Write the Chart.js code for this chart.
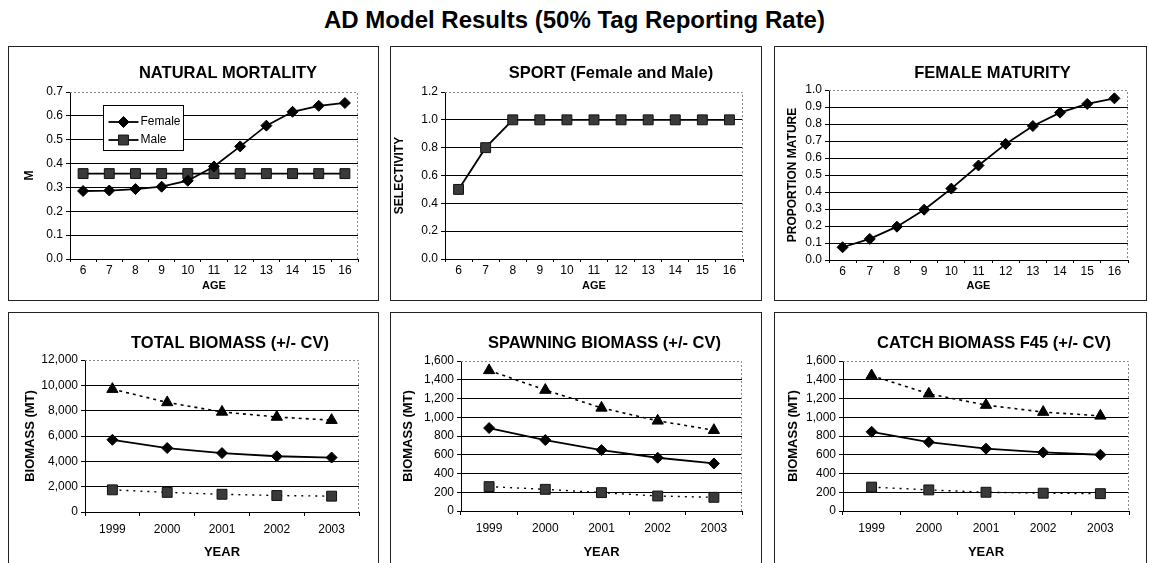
<!DOCTYPE html>
<html><head><meta charset="utf-8">
<script src="https://cdn.jsdelivr.net/npm/chart.js@4.4.1/dist/chart.umd.min.js"></script>
<style>
html,body{margin:0;padding:0;background:#fff;}
body{width:1149px;height:563px;overflow:hidden;position:relative;font-family:"Liberation Sans",Arial,sans-serif;}
#title{position:absolute;left:0;top:6px;width:1149px;text-align:center;font-weight:bold;font-size:24px;line-height:28px;color:#000;}
.panel{position:absolute;border:1px solid #222;box-sizing:border-box;}
canvas{position:absolute;}
</style></head><body>
<div id="title">AD Model Results (50% Tag Reporting Rate)</div>
<script>
// ---- data ----
const ages = ['6','7','8','9','10','11','12','13','14','15','16'];
const years = ['1999','2000','2001','2002','2003'];

const mortFemale = [0.285, 0.287, 0.293, 0.303, 0.328, 0.388, 0.472, 0.559, 0.617, 0.642, 0.654];
const mortMale   = [0.358, 0.358, 0.358, 0.358, 0.358, 0.358, 0.358, 0.358, 0.358, 0.358, 0.358];
const sportSel   = [0.5, 0.8, 1.0, 1.0, 1.0, 1.0, 1.0, 1.0, 1.0, 1.0, 1.0];
const maturity   = [0.075, 0.124, 0.196, 0.296, 0.42, 0.556, 0.683, 0.788, 0.867, 0.918, 0.951];

const totalUpper = [9700, 8650, 7900, 7500, 7250];
const totalMid   = [5700, 5050, 4650, 4400, 4300];
const totalLower = [1750, 1550, 1400, 1300, 1250];

const spawnUpper = [1500, 1290, 1100, 962, 862];
const spawnMid   = [885, 757, 650, 568, 507];
const spawnLower = [260, 231, 196, 160, 146];

const catchUpper = [1445, 1250, 1130, 1055, 1015];
const catchMid   = [845, 735, 665, 625, 600];
const catchLower = [255, 225, 200, 190, 185];

const mortTicks  = [0, 0.1, 0.2, 0.3, 0.4, 0.5, 0.6, 0.7];
const sportTicks = [0, 0.2, 0.4, 0.6, 0.8, 1.0, 1.2];
const matTicks   = [0, 0.1, 0.2, 0.3, 0.4, 0.5, 0.6, 0.7, 0.8, 0.9, 1.0];
const totalTicks = [0, 2000, 4000, 6000, 8000, 10000, 12000];
const bioTicks   = [0, 200, 400, 600, 800, 1000, 1200, 1400, 1600];

// ---- helpers ----
const FONT = "'Liberation Sans', Arial, Helvetica, sans-serif";
const TICK = 12;
const dec1 = v => Number(v).toFixed(1);
const comma = v => Number(v).toLocaleString('en-US');

const frame = {
  id: 'frame',
  beforeDatasetsDraw(chart) {
    const {ctx, chartArea: a} = chart;
    ctx.save();
    ctx.strokeStyle = '#8a8a8a';
    ctx.lineWidth = 1;
    ctx.setLineDash([2, 2]);
    const t = Math.round(a.top) + 0.5, r = Math.round(a.right) - 0.5;
    ctx.beginPath();
    ctx.moveTo(a.left, t); ctx.lineTo(r, t); ctx.lineTo(r, a.bottom);
    ctx.stroke();
    ctx.restore();
  }
};

const shiftTitle = {
  id: 'shiftTitle',
  afterLayout(chart, args, o) {
    const t = chart.titleBlock;
    if (t && o && o.dx) { t.left += o.dx; t.right += o.dx; }
  }
};

function marker(ctx, style, r, x, y) {
  if (Chart.helpers && Chart.helpers.drawPoint) {
    Chart.helpers.drawPoint(ctx, {pointStyle: style, radius: r, rotation: 0, borderWidth: 1}, x, y);
    return;
  }
  ctx.beginPath();
  if (style === 'rect') { const s = r * Math.SQRT1_2; ctx.rect(x - s, y - s, 2 * s, 2 * s); }
  else { ctx.moveTo(x, y - r); ctx.lineTo(x + r, y); ctx.lineTo(x, y + r); ctx.lineTo(x - r, y); ctx.closePath(); }
  ctx.fill(); ctx.stroke();
}

const boxLegend = {
  id: 'boxLegend',
  afterDraw(chart, args, o) {
    if (!o || !o.w) return;
    const {ctx, chartArea: a} = chart;
    const x = Math.round(a.left + o.x) + 0.5, y = Math.round(a.top + o.y) + 0.5;
    ctx.save();
    ctx.fillStyle = '#fff';
    ctx.fillRect(x, y, o.w, o.h);
    ctx.strokeStyle = '#000'; ctx.lineWidth = 1;
    ctx.strokeRect(x, y, o.w, o.h);
    chart.data.datasets.forEach((d, i) => {
      const cy = y + o.rows[i];
      ctx.strokeStyle = d.borderColor; ctx.lineWidth = d.borderWidth;
      ctx.beginPath(); ctx.moveTo(x + o.lineX0, cy); ctx.lineTo(x + o.lineX1, cy); ctx.stroke();
      ctx.fillStyle = d.pointBackgroundColor; ctx.strokeStyle = d.pointBorderColor; ctx.lineWidth = 1;
      marker(ctx, d.pointStyle, d.pointRadius, x + (o.lineX0 + o.lineX1) / 2, cy);
      ctx.fillStyle = '#000';
      ctx.font = '12px ' + FONT;
      ctx.textBaseline = 'middle'; ctx.textAlign = 'left';
      ctx.fillText(d.label, x + o.textX, cy);
    });
    ctx.restore();
  }
};

function diamondSet(label, data) {
  return {label, data, borderColor: '#000', borderWidth: 1.8, pointStyle: 'rectRot', pointRadius: 5.5,
    pointBackgroundColor: '#000', pointBorderColor: '#000', pointBorderWidth: 1, tension: 0, fill: false};
}
function squareSet(label, data, dash) {
  return {label, data, borderColor: '#000', borderWidth: dash ? 1.4 : 1.8, borderDash: dash || [],
    pointStyle: 'rect', pointRadius: 7, pointBackgroundColor: '#3a3a3a', pointBorderColor: '#111',
    pointBorderWidth: 1, tension: 0, fill: false};
}
function triSet(label, data) {
  return {label, data, borderColor: '#000', borderWidth: 1.6, borderDash: [3, 4],
    pointStyle: 'triangle', pointRadius: 6.5, pointBackgroundColor: '#000', pointBorderColor: '#000',
    pointBorderWidth: 1, tension: 0, fill: false};
}

function panel(o) {
  const div = document.createElement('div');
  div.className = 'panel';
  Object.assign(div.style, {left: o.left + 'px', top: o.top + 'px', width: o.w + 'px', height: o.h + 'px'});
  document.body.appendChild(div);
  const cv = document.createElement('canvas');
  cv.width = o.w; cv.height = o.h;
  Object.assign(cv.style, {left: o.left + 'px', top: o.top + 'px', width: o.w + 'px', height: o.h + 'px'});
  document.body.appendChild(cv);

  const tSize = 16.5, tLh = tSize * 1.2;
  const tPadTop = o.titleY - tLh / 2;
  const tPadBot = o.chartTop - tPadTop - tLh;
  const yLh = o.yTitleSize * 1.2;
  const xLh = o.xTitleSize * 1.2;
  const yMax = o.yTicks[o.yTicks.length - 1];

  new Chart(cv, {
    type: 'line',
    data: {labels: o.labels, datasets: o.datasets},
    options: {
      responsive: false, animation: false, events: [],
      layout: {padding: {left: 0, right: o.w - o.chartRight, top: 0, bottom: 0}},
      plugins: {
        legend: {display: false}, tooltip: {enabled: false},
        title: {display: true, text: o.title, fullSize: false, color: '#000',
          font: {family: FONT, size: tSize, weight: 'bold'}, padding: {top: tPadTop, bottom: tPadBot}},
        shiftTitle: {dx: o.titleDx},
        boxLegend: o.legend || false
      },
      scales: {
        x: {
          type: 'category', offset: true,
          grid: {display: true, offset: true, drawOnChartArea: false, drawTicks: true,
            tickLength: o.xTickLen, color: '#000', tickColor: '#000'},
          border: {display: true, color: '#000', width: 1},
          ticks: {color: '#000', font: {family: FONT, size: TICK}, padding: o.xTickPad, maxRotation: 0, autoSkip: false},
          title: {display: true, text: o.xTitle, color: '#000',
            font: {family: FONT, size: o.xTitleSize, weight: 'bold'},
            padding: {top: 0, bottom: o.h - o.xTitleY - xLh / 2}},
          afterFit: s => { s.height = o.h - o.chartBottom; }
        },
        y: {
          min: o.yTicks[0], max: yMax,
          afterBuildTicks: s => { s.ticks = o.yTicks.map(v => ({value: v})); },
          grid: {color: c => (c.tick && c.tick.value === yMax) ? 'rgba(0,0,0,0)' : '#000',
            lineWidth: 1, drawTicks: true, tickLength: 4, tickColor: '#000'},
          border: {display: true, color: '#000', width: 1},
          ticks: {color: '#000', font: {family: FONT, size: TICK}, padding: 3, autoSkip: false, callback: v => o.fmt(v)},
          title: {display: true, text: o.yTitle, color: '#000',
            font: {family: FONT, size: o.yTitleSize, weight: 'bold'},
            padding: {top: o.yTitleX - yLh / 2, bottom: 0}},
          afterFit: s => { s.width = o.chartLeft; }
        }
      }
    },
    plugins: [frame, shiftTitle, boxLegend]
  });
}

const topRow = {top: 46, h: 255, chartTop: 46, chartBottom: 213, titleY: 27, yTitleSize: 12,
  xTitle: 'AGE', xTitleY: 239.5, xTitleSize: 11, xTickLen: 3, xTickPad: 1, labels: ages};
const botRow = {top: 312, h: 260, chartTop: 48, chartBottom: 200, titleY: 31, yTitleSize: 13,
  xTitle: 'YEAR', xTitleY: 240, xTitleSize: 13, xTickLen: 4, xTickPad: 6, labels: years,
  yTitle: 'BIOMASS (MT)'};

panel(Object.assign({}, topRow, {
  left: 8, w: 371, chartLeft: 62, chartRight: 350, titleDx: 14,
  title: 'NATURAL MORTALITY', yTitle: 'M', yTitleX: 22, yTicks: mortTicks, fmt: dec1,
  datasets: [diamondSet('Female', mortFemale), squareSet('Male', mortMale)],
  legend: {x: 33, y: 13, w: 80, h: 45, rows: [16.5, 34.5], lineX0: 5, lineX1: 35, textX: 37}
}));
panel(Object.assign({}, topRow, {
  left: 390, w: 372, chartLeft: 55, chartRight: 353, titleDx: 17,
  title: 'SPORT (Female and Male)', yTitle: 'SELECTIVITY', yTitleX: 10, yTicks: sportTicks, fmt: dec1,
  datasets: [squareSet('Female and Male', sportSel)]
}));
panel(Object.assign({}, topRow, {
  left: 774, w: 373, chartLeft: 55, chartRight: 354, chartTop: 44, chartBottom: 214, titleDx: 14,
  title: 'FEMALE MATURITY', yTitle: 'PROPORTION MATURE', yTitleX: 19, yTicks: matTicks, fmt: dec1,
  datasets: [diamondSet('Female', maturity)]
}));
panel(Object.assign({}, botRow, {
  left: 8, w: 371, chartLeft: 77, chartRight: 351, titleDx: 8,
  title: 'TOTAL BIOMASS (+/- CV)', yTitleX: 22, yTicks: totalTicks, fmt: comma,
  datasets: [triSet('+CV', totalUpper), diamondSet('Estimate', totalMid), squareSet('-CV', totalLower, [2, 5])]
}));
panel(Object.assign({}, botRow, {
  left: 390, w: 372, chartLeft: 71, chartRight: 352, chartTop: 49, chartBottom: 199, titleDx: 3,
  title: 'SPAWNING BIOMASS (+/- CV)', yTitleX: 18, yTicks: bioTicks, fmt: comma,
  datasets: [triSet('+CV', spawnUpper), diamondSet('Estimate', spawnMid), squareSet('-CV', spawnLower, [2, 5])]
}));
panel(Object.assign({}, botRow, {
  left: 774, w: 373, chartLeft: 69, chartRight: 355, chartTop: 49, chartBottom: 199, titleDx: 8,
  title: 'CATCH BIOMASS F45 (+/- CV)', yTitleX: 19, yTicks: bioTicks, fmt: comma,
  datasets: [triSet('+CV', catchUpper), diamondSet('Estimate', catchMid), squareSet('-CV', catchLower, [2, 5])]
}));
</script>
</body></html>
